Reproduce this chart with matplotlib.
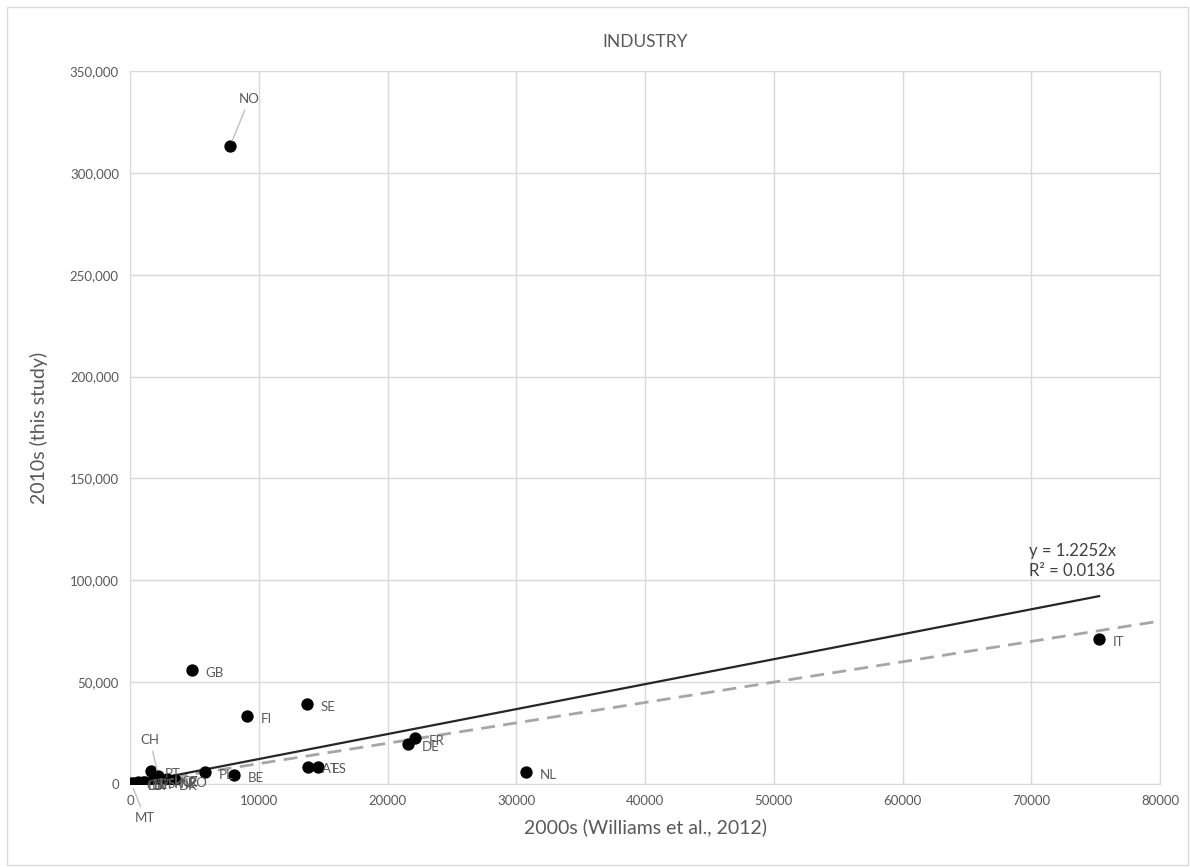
import matplotlib.pyplot as plt
from matplotlib.patches import Rectangle
from matplotlib.ticker import FuncFormatter

plt.rcParams['font.family'] = ['Lato', 'DejaVu Sans']

# country emissions, 2000s estimate vs 2010s estimate
codes = ['NO', 'GB', 'FI', 'SE', 'FR', 'DE', 'AT', 'ES', 'NL', 'PL', 'BE', 'IT',
         'PT', 'CH', 'MT', 'CY', 'LU', 'EE', 'LV', 'SI', 'LT', 'SK', 'HU', 'DK',
         'CZ', 'IE', 'RO']
x2000s = [7770, 4800, 9100, 13750, 22150, 21600, 13800, 14580, 30730, 5850, 8080, 75270,
          1600, 2200, 100, 200, 300, 600, 800, 1000, 1200, 1800, 2300, 2700,
          2900, 3200, 3500]
y2010s = [313200, 56000, 33400, 39300, 22600, 19700, 8500, 8500, 6000, 5800, 4400, 71000,
          6400, 4000, 300, 200, 500, 800, 400, 1200, 900, 1500, 1800, 600,
          2400, 1300, 2000]

slope = 1.2252
r2 = 0.0136

# labels that sit away from their point with a leader line
leader = {'NO': (14, 34), 'CH': (-6, 26), 'MT': (10, -25)}

grey = '#595959'

fig = plt.figure(figsize=(11.9, 8.67), dpi=100)
fig.patches.append(Rectangle((7 / 1190, 2 / 867), 1181 / 1190, 858 / 867,
                             transform=fig.transFigure, fill=False,
                             edgecolor='#d9d9d9', linewidth=1))
ax = fig.add_axes([130 / 1190, 1 - 784 / 867, 1030 / 1190, 713 / 867])

ax.set_xlim(0, 80000)
ax.set_ylim(0, 350000)
ax.set_xticks(range(0, 80001, 10000))
ax.set_yticks(range(0, 350001, 50000))
ax.yaxis.set_major_formatter(FuncFormatter(lambda v, p: '{:,.0f}'.format(v)))
ax.grid(True, color='#d9d9d9', linewidth=1)
ax.set_axisbelow(True)
for s in ax.spines.values():
    s.set_color('#d9d9d9')
ax.tick_params(length=0, colors=grey, labelsize=9.5, pad=8)

# 1:1 line
ax.plot([0, 80000], [0, 80000], color='#a6a6a6', linestyle=(0, (5, 3)), linewidth=2)
# linear trend through origin
xmax = max(x2000s)
ax.plot([0, xmax], [0, slope * xmax], color='#262626', linewidth=1.6)

ax.scatter(x2000s, y2010s, s=62, color='black', zorder=3)

for c, x, y in zip(codes, x2000s, y2010s):
    if c in leader:
        ax.annotate(c, (x, y), xytext=leader[c], textcoords='offset points',
                    ha='center', va='center', color=grey, fontsize=9.5,
                    arrowprops=dict(arrowstyle='-', color='#bfbfbf', lw=1,
                                    shrinkA=2, shrinkB=4))
    else:
        ax.annotate(c, (x, y), xytext=(10, -2), textcoords='offset points',
                    ha='left', va='center', color=grey, fontsize=9.5)

ax.text(69800, 109500, 'y = 1.2252x\nR² = {}'.format(r2), color='#404040',
        fontsize=12, ha='left', va='center', linespacing=1.35)

ax.set_title('INDUSTRY', color=grey, fontsize=12.5, pad=17)
ax.set_xlabel('2000s (Williams et al., 2012)', color=grey, fontsize=14, labelpad=8)
ax.set_ylabel('2010s (this study)', color=grey, fontsize=14, labelpad=16)

fig.savefig('out.png', dpi=100)
